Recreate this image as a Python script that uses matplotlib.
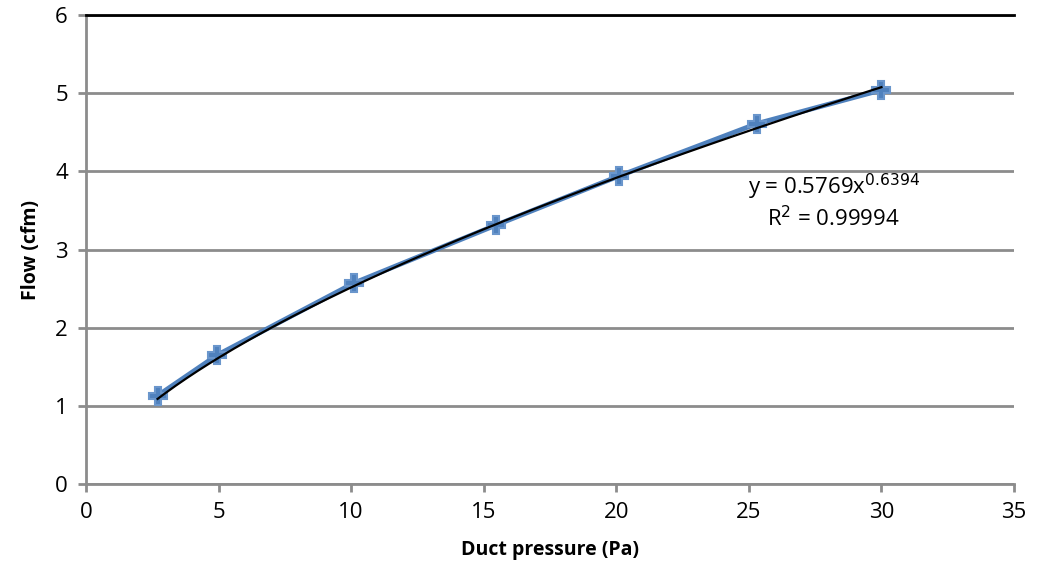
import numpy as np
import matplotlib.pyplot as plt

plt.rcParams['font.family'] = ['Open Sans', 'DejaVu Sans']

# measured points
pressure = [2.7, 4.95, 10.1, 15.45, 20.1, 25.3, 30.0]
flow = [1.13, 1.65, 2.57, 3.31, 3.94, 4.61, 5.04]
coef = 0.5769
expo = 0.6394

fig = plt.figure(figsize=(10.46, 5.75), dpi=100)
ax = fig.add_axes([86/1046, 1 - 484/575, (1014-86)/1046, (484-15)/575])

ax.plot(pressure, flow, color='#4F81BD', lw=3.5, marker='P', ms=13,
        mec='#6a96cc', mfc='#4F81BD', mew=1.5, zorder=3)

xfit = np.linspace(min(pressure), max(pressure), 200)
ax.plot(xfit, coef * xfit**expo, color='black', lw=1.6, zorder=4)

ax.set_xlim(0, 35)
ax.set_ylim(0, 6)
ax.set_xticks(range(0, 36, 5))
ax.set_yticks(range(0, 7))
ax.yaxis.grid(True, color='#8c8c8c', lw=2)
ax.set_axisbelow(True)
for s in ['left', 'bottom']:
    ax.spines[s].set_color('#8c8c8c')
    ax.spines[s].set_linewidth(2)
ax.spines['right'].set_visible(False)
ax.spines['top'].set_color('black')
ax.spines['top'].set_linewidth(2)
ax.tick_params(axis='both', color='#8c8c8c', width=2, length=6, labelsize=16, pad=7)

ax.set_xlabel('Duct pressure (Pa)', fontsize=14, fontweight='bold', labelpad=12)
ax.set_ylabel('Flow (cfm)', fontsize=14, fontweight='bold', labelpad=10)

ax.text(28.2, 3.8, 'y = 0.5769x$^{0.6394}$', fontsize=16, ha='center', va='center')
ax.text(28.2, 3.4, 'R$^2$ = 0.99994', fontsize=16, ha='center', va='center')

fig.savefig('out.png', dpi=100)
